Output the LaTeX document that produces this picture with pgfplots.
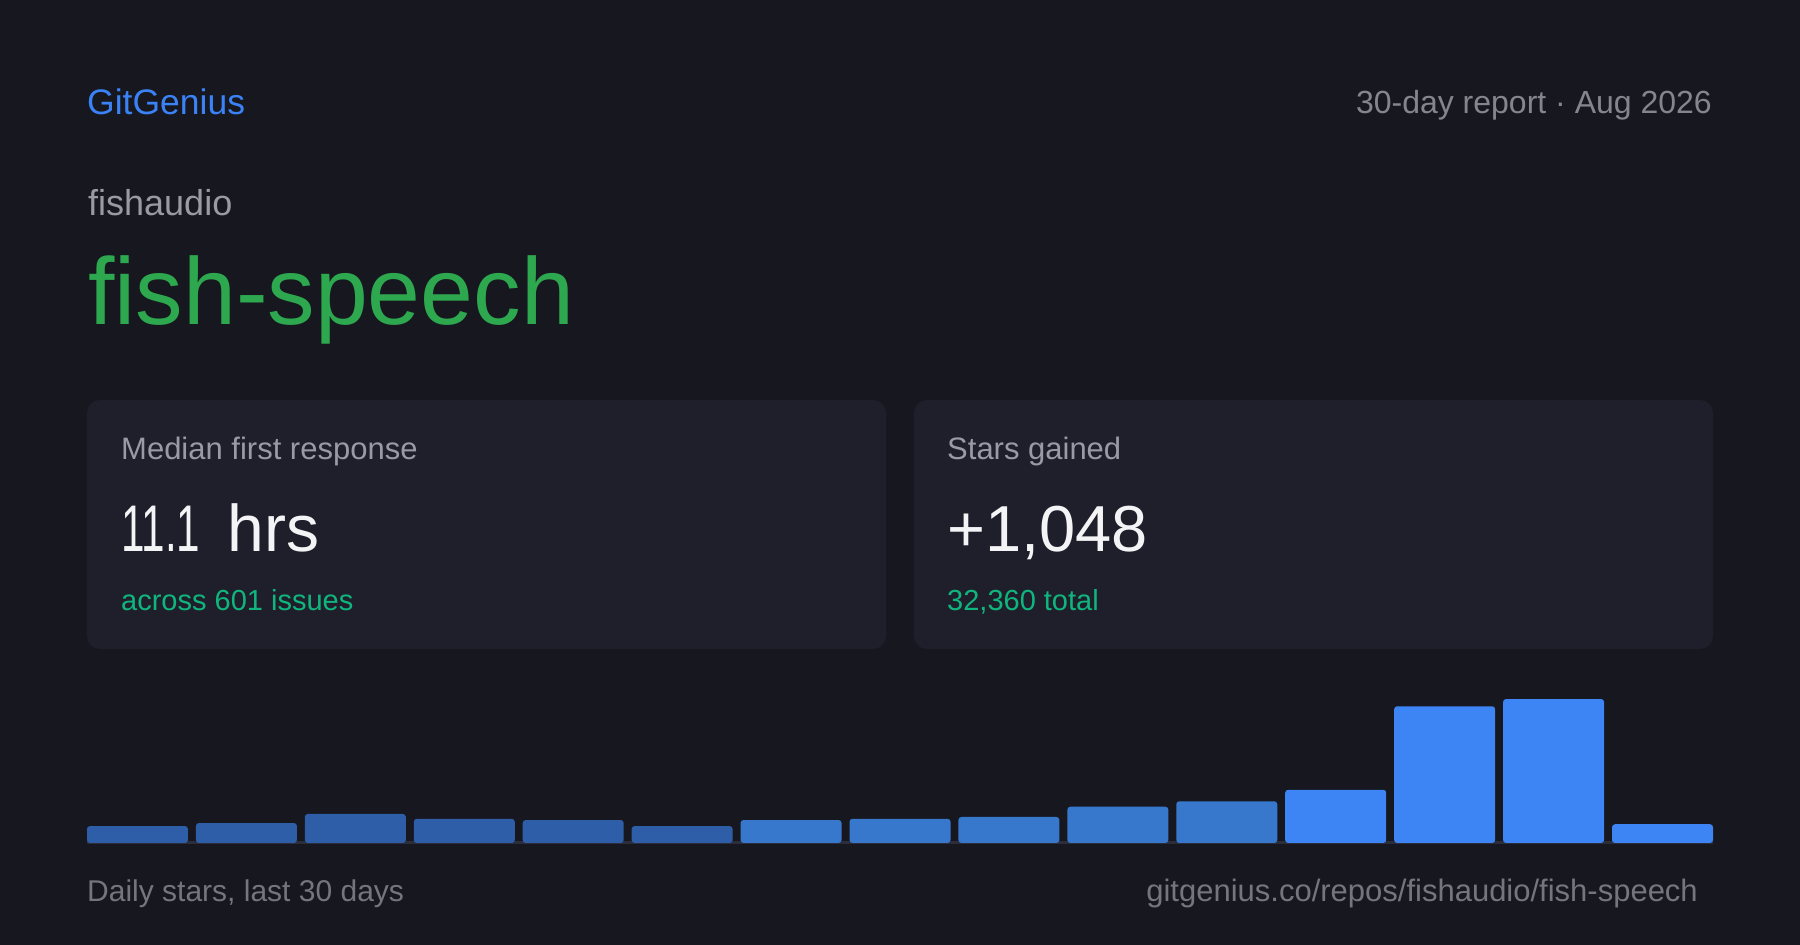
\documentclass[border=0pt]{standalone}
\usepackage{pgfplots}
\pgfplotsset{compat=1.18}
\usepackage{fontspec}
\setmainfont{Liberation Sans}
\definecolor{bg}{HTML}{16171F}
\definecolor{card}{HTML}{1F1F2B}
\definecolor{brand}{HTML}{3B82F6}
\definecolor{greytxt}{HTML}{85858F}
\definecolor{greylbl}{HTML}{9A9AA4}
\definecolor{greyfoot}{HTML}{75757F}
\definecolor{repo}{HTML}{2EA84F}
\definecolor{teal}{HTML}{10B57E}
\definecolor{white2}{HTML}{F4F4F6}
\definecolor{bdark}{HTML}{2E5EA8}
\definecolor{bmid}{HTML}{3778CC}
\definecolor{bbright}{HTML}{3D85F5}
\definecolor{basecol}{HTML}{2C2D3B}

\pgfplotstableread{
x y
0 28
1 33
2 48
3 40
4 38
5 28
}\tdark
\pgfplotstableread{
x y
6 38
7 40
8 43
9 60
10 69
}\tmid
\pgfplotstableread{
x y
11 88
12 226
13 238
14 31
}\tbright

\begin{document}
\begin{tikzpicture}
\begin{scope}[x=1pt,y=1pt]
\fill[bg] (0,0) rectangle (1800,945);
\fill[card,rounded corners=13pt] (87,296) rectangle (886,545);
\fill[card,rounded corners=13pt] (914,296) rectangle (1713,545);
\node[anchor=base west,inner sep=0,text=brand,font=\fontsize{35.5}{42}\selectfont] at (87,830) {GitGenius};
\node[anchor=base east,inner sep=0,text=greytxt,font=\fontsize{32}{38}\selectfont] at (1712,831) {30-day report · Aug 2026};
\node[anchor=base west,inner sep=0,text=greylbl,font=\fontsize{36}{42}\selectfont] at (88,729) {fishaudio};
\node[anchor=base west,inner sep=0,text=repo,font=\fontsize{95}{110}\selectfont] at (88,620) {fish-speech};
\node[anchor=base west,inner sep=0,text=greylbl,font=\fontsize{31}{36}\selectfont] at (121,485) {Median first response};
\node[anchor=base west,inner sep=0,text=white2,font=\fontsize{66}{76}\selectfont] at (121,393) {\scalebox{0.64}[1]{11.1}\hspace{9pt} hrs};
\node[anchor=base west,inner sep=0,text=teal,font=\fontsize{29}{34}\selectfont] at (121,334) {across 601 issues};
\node[anchor=base west,inner sep=0,text=greylbl,font=\fontsize{31}{36}\selectfont] at (947,485) {Stars gained};
\node[anchor=base west,inner sep=0,text=white2,font=\fontsize{65}{76}\selectfont] at (947,393) {+1,048};
\node[anchor=base west,inner sep=0,text=teal,font=\fontsize{29}{34}\selectfont] at (947,334) {32,360 total};
\node[anchor=base west,inner sep=0,text=greyfoot,font=\fontsize{30}{36}\selectfont] at (87,43) {Daily stars, last 30 days};
\node[anchor=base east,inner sep=0,text=greyfoot,font=\fontsize{31}{36}\selectfont] at (1698,43) {gitgenius.co/repos/fishaudio/fish-speech};
\end{scope}
\begin{axis}[
  at={(87pt,102pt)}, anchor=south west,
  scale only axis, width=1626pt, height=150pt,
  xmin=-0.46330, xmax=14.46330, ymin=6, ymax=253.95,
  axis y line=none, axis x line=bottom,
  x axis line style={-, draw=basecol, line width=3pt},
  xtick=\empty, ytick=\empty,
  clip=true,
  ybar, bar width=101pt, bar shift=0pt,
  y filter/.expression={y+6},
]
\addplot[fill=bdark, draw=none, rounded corners=3pt] table[x=x,y=y] {\tdark};
\addplot[fill=bmid, draw=none, rounded corners=3pt] table[x=x,y=y] {\tmid};
\addplot[fill=bbright, draw=none, rounded corners=3pt] table[x=x,y=y] {\tbright};
\end{axis}
\end{tikzpicture}
\end{document}
